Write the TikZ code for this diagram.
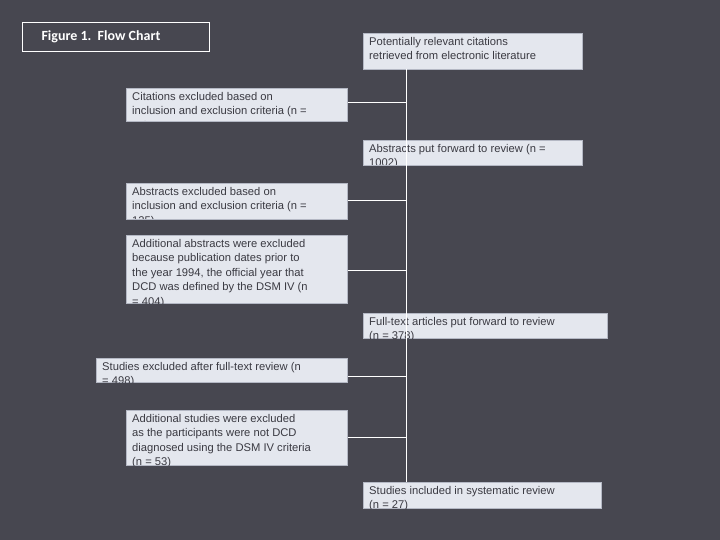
\documentclass[tikz,border=0pt]{standalone}
\usepackage{fontspec}
\setmainfont{Liberation Sans}
\newfontfamily\titlefont{Carlito}
\definecolor{bg}{HTML}{474750}
\definecolor{boxfill}{HTML}{E4E7EE}
\definecolor{boxline}{HTML}{B4B8C4}
\definecolor{txt}{HTML}{3A3A42}
\begin{document}
\begin{tikzpicture}[x=1pt,y=1pt,
  boxst/.style={draw=boxline,fill=boxfill,line width=0.8pt,anchor=north west,inner sep=0},
  txtst/.style={anchor=north west,inner sep=0,align=left,text=txt,font=\fontsize{11.2}{14.5}\selectfont},
  conn/.style={draw=white,line width=1pt}]
\fill[bg] (0,0) rectangle (720,-540);
\useasboundingbox (0,0) rectangle (720,-540);
% title
\node[draw=white,line width=1pt,anchor=north west,minimum width=187pt,minimum height=29pt,inner sep=0] (title) at (22,-22) {};
\node[text=white,font=\titlefont\bfseries\fontsize{14}{16}\selectfont,anchor=west] (tt) at (38,-37) {Figure 1.\ \ Flow Chart};
% generic box macro
\newcommand{\mybox}[7]{% name, x, y, w, h, tx, text
  \node[boxst,minimum width=#4pt,minimum height=#5pt] (#1) at (#2,-#3) {};
  \begin{scope}
    \clip (#2,-#3) rectangle ++(#4,-#5);
    \node[txtst] (#1t) at (#2+#6,-#3-4) {#7};
  \end{scope}}
\mybox{b1}{363}{33}{219}{36}{6}{Potentially relevant citations\\retrieved from electronic literature}
\mybox{b2}{126}{88}{221}{33}{6}{Citations excluded based on\\inclusion and exclusion criteria (n =\\ 89)}
\mybox{b3}{363}{140}{219}{25}{6}{Abstracts put forward to review (n =\\1002)}
\mybox{b4}{126}{183}{221}{36}{6}{Abstracts excluded based on\\inclusion and exclusion criteria (n =\\ 125)}
\mybox{b5}{126}{235}{221}{68}{6}{Additional abstracts were excluded\\because publication dates prior to\\the year 1994, the official year that\\DCD was defined by the DSM IV (n\\= 404)}
\mybox{b6}{363}{313}{244}{25}{6}{Full-text articles put forward to review\\(n = 378)}
\mybox{b7}{96}{358}{251}{24}{6}{Studies excluded after full-text review (n\\= 498)}
\mybox{b8}{126}{410}{221}{55}{6}{Additional studies were excluded\\as the participants were not DCD\\diagnosed using the DSM IV criteria\\(n = 53)}
\mybox{b9}{363}{482}{238}{26}{6}{Studies included in systematic review\\(n = 27)}
% spine and connectors
\coordinate (s1) at (406,-69);
\coordinate (s2) at (406,-482);
\coordinate (c2) at (406,-103);
\coordinate (c4) at (406,-201);
\coordinate (c5) at (406,-270);
\coordinate (c7) at (406,-376);
\coordinate (c8) at (406,-437);
\draw[conn] (s1) -- (s2);
\draw[conn] (c2 -| b2.east) -- (c2);
\draw[conn] (c4 -| b4.east) -- (c4);
\draw[conn] (c5 -| b5.east) -- (c5);
\draw[conn] (c7 -| b7.east) -- (c7);
\draw[conn] (c8 -| b8.east) -- (c8);
\end{tikzpicture}
\end{document}
